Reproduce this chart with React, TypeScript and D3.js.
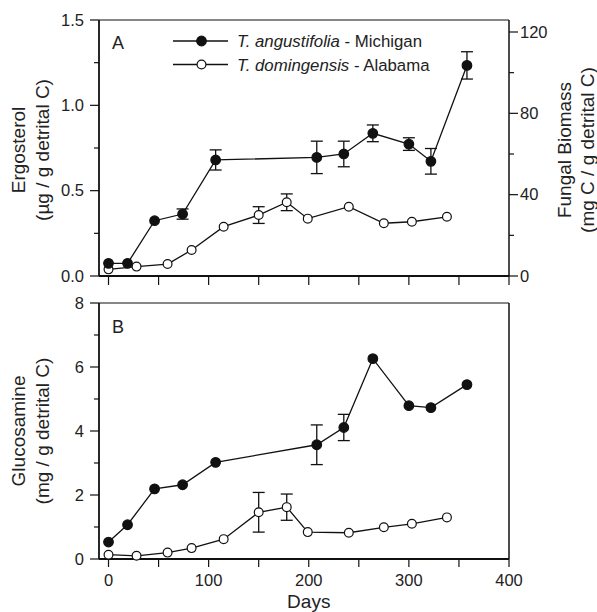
import React from 'react';
import * as d3 from 'd3';

// ---- Data ----
const daysAngustifolia = [0, 19, 46, 74, 107, 208, 235, 264, 300, 322, 358];
const ergAngustifolia = [0.074, 0.074, 0.324, 0.363, 0.68, 0.695, 0.715, 0.836, 0.773, 0.672, 1.234];
const ergAngustifoliaErr = [0, 0, 0, 0.03, 0.059, 0.095, 0.075, 0.049, 0.037, 0.075, 0.08];
const glcAngustifolia = [0.53, 1.07, 2.19, 2.32, 3.02, 3.57, 4.11, 6.26, 4.79, 4.73, 5.45];
const glcAngustifoliaErr = [0, 0, 0, 0, 0, 0.62, 0.41, 0, 0, 0, 0];

const daysDomingensis = [0, 28, 59, 83, 115, 150, 178, 199, 240, 275, 303, 338];
const ergDomingensis = [0.039, 0.055, 0.07, 0.152, 0.289, 0.357, 0.432, 0.336, 0.406, 0.309, 0.318, 0.347];
const ergDomingensisErr = [0, 0, 0, 0, 0, 0.049, 0.049, 0, 0, 0, 0, 0];
const glcDomingensis = [0.135, 0.1, 0.2, 0.34, 0.62, 1.46, 1.62, 0.84, 0.82, 0.99, 1.1, 1.3];
const glcDomingensisErr = [0, 0, 0, 0, 0, 0.62, 0.41, 0, 0, 0, 0, 0];

const xTicks = [0, 100, 200, 300, 400];
const xMinorTicks = [50, 150, 250, 350];
const ergTicks = [0, 0.5, 1.0, 1.5];
const ergMinorTicks = [0.25, 0.75, 1.25];
const biomassTicks = [0, 40, 80, 120];
const biomassMinorTicks = [20, 60, 100];
const glcTicks = [0, 2, 4, 6, 8];
const glcMinorTicks = [1, 3, 5, 7];

const seriesNames = [
  { italic: 'T. angustifolia', rest: ' - Michigan', filled: true },
  { italic: 'T. domingensis', rest: ' - Alabama', filled: false },
];

const FONT = '"Liberation Sans", Arial, Helvetica, sans-serif';

const L = 99, R = 509;
const topA = 20, botA = 276, topB = 303, botB = 559;

const x = d3.scaleLinear().domain([-9.5, 400]).range([L, R]);
const yErg = d3.scaleLinear().domain([0, 1.5]).range([botA, topA]);
const yBio = d3.scaleLinear().domain([0, 125.9]).range([botA, topA]);
const yGlc = d3.scaleLinear().domain([0, 8]).range([botB, topB]);

type Series = { days: number[]; vals: number[]; errs: number[]; filled: boolean };

function SeriesMarks({ s, y }: { s: Series; y: d3.ScaleLinear<number, number> }) {
  const pts = s.days.map((d, i) => [d, s.vals[i]] as [number, number]);
  const line = d3.line<[number, number]>().x(p => x(p[0])).y(p => y(p[1]));
  return (
    <g>
      <path d={line(pts) || ''} fill="none" stroke="#111" strokeWidth={1.3} />
      {s.days.map((d, i) =>
        s.errs[i] > 0 ? (
          <g key={'e' + i} stroke="#111" strokeWidth={1.3}>
            <line x1={x(d)} x2={x(d)} y1={y(s.vals[i] - s.errs[i])} y2={y(s.vals[i] + s.errs[i])} />
            <line x1={x(d) - 6} x2={x(d) + 6} y1={y(s.vals[i] - s.errs[i])} y2={y(s.vals[i] - s.errs[i])} />
            <line x1={x(d) - 6} x2={x(d) + 6} y1={y(s.vals[i] + s.errs[i])} y2={y(s.vals[i] + s.errs[i])} />
          </g>
        ) : null
      )}
      {s.days.map((d, i) => (
        <circle
          key={'c' + i}
          cx={x(d)}
          cy={y(s.vals[i])}
          r={s.filled ? 4.8 : 4.4}
          fill={s.filled ? '#111' : '#fff'}
          stroke="#111"
          strokeWidth={1.2}
        />
      ))}
    </g>
  );
}

function LeftAxis({ y, ticks, minor, fmt, top, bot }: any) {
  return (
    <g>
      <line x1={L} x2={L} y1={top} y2={bot} stroke="#111" strokeWidth={1.8} />
      {ticks.map((t: number) => (
        <g key={t}>
          <line x1={L - 9} x2={L} y1={y(t)} y2={y(t)} stroke="#111" strokeWidth={1.2} />
          <text x={L - 15} y={y(t)} dy="0.35em" textAnchor="end" fontSize={16.5} fontFamily={FONT} fill="#222">
            {fmt(t)}
          </text>
        </g>
      ))}
      {minor.map((t: number) => (
        <line key={'m' + t} x1={L - 5} x2={L} y1={y(t)} y2={y(t)} stroke="#111" strokeWidth={1.2} />
      ))}
    </g>
  );
}

function XAxis({ yPos, labels, len }: { yPos: number; labels: boolean; len: number }) {
  return (
    <g>
      <line x1={L} x2={R} y1={yPos} y2={yPos} stroke="#111" strokeWidth={1.8} />
      {[...xTicks, ...xMinorTicks].map(t => (
        <line key={t} x1={x(t)} x2={x(t)} y1={yPos} y2={yPos + len} stroke="#111" strokeWidth={1.2} />
      ))}
      {labels &&
        xTicks.map(t => (
          <text key={'l' + t} x={x(t)} y={yPos + 27} textAnchor="middle" fontSize={16.5} fontFamily={FONT} fill="#222">
            {t}
          </text>
        ))}
    </g>
  );
}

function RotTitle({ cx, cy, lines, baselines }: { cx: number; cy: number; lines: string[]; baselines: number[] }) {
  return (
    <g>
      {lines.map((ln, i) => (
        <text
          key={i}
          transform={`translate(${baselines[i]},${cy}) rotate(-90)`}
          textAnchor="middle"
          fontSize={19}
          fontFamily={FONT}
          fill="#222"
        >
          {ln}
        </text>
      ))}
    </g>
  );
}

export default function App() {
  const fa: Series = { days: daysAngustifolia, vals: ergAngustifolia, errs: ergAngustifoliaErr, filled: true };
  const da: Series = { days: daysDomingensis, vals: ergDomingensis, errs: ergDomingensisErr, filled: false };
  const fb: Series = { days: daysAngustifolia, vals: glcAngustifolia, errs: glcAngustifoliaErr, filled: true };
  const db: Series = { days: daysDomingensis, vals: glcDomingensis, errs: glcDomingensisErr, filled: false };

  return (
    <svg
      width={597}
      height={612}
      style={{ position: 'absolute', left: 0, top: 0, background: '#fff' }}
    >
      <rect width={597} height={612} fill="#fff" />
      {/* Panel A */}
      <line x1={L} x2={R} y1={topA} y2={topA} stroke="#111" strokeWidth={1.2} />
      <line x1={R} x2={R} y1={topA} y2={botA} stroke="#111" strokeWidth={1.5} />
      {biomassTicks.map(t => (
        <g key={'b' + t}>
          <line x1={R} x2={R + 9} y1={yBio(t)} y2={yBio(t)} stroke="#111" strokeWidth={1.2} />
          <text x={R + 11} y={yBio(t)} dy="0.35em" fontSize={16.5} fontFamily={FONT} fill="#222">
            {t}
          </text>
        </g>
      ))}
      {biomassMinorTicks.map(t => (
        <line key={'bm' + t} x1={R} x2={R + 5} y1={yBio(t)} y2={yBio(t)} stroke="#111" strokeWidth={1.2} />
      ))}
      <XAxis yPos={botA} labels={false} len={9} />
      <LeftAxis y={yErg} ticks={ergTicks} minor={ergMinorTicks} fmt={(t: number) => t.toFixed(1)} top={topA} bot={botA} />
      <text x={112} y={49} fontSize={18} fontFamily={FONT} fill="#222">A</text>
      <SeriesMarks s={da} y={yErg} />
      <SeriesMarks s={fa} y={yErg} />
      {/* Legend */}
      {seriesNames.map((s, i) => {
        const ly = 41 + i * 23.5;
        return (
          <g key={s.italic}>
            <line x1={173} x2={228} y1={ly} y2={ly} stroke="#111" strokeWidth={1.3} />
            <circle cx={201.5} cy={ly} r={s.filled ? 4.8 : 4.4} fill={s.filled ? '#111' : '#fff'} stroke="#111" strokeWidth={1.2} />
            <text x={237} y={ly + 6} fontSize={16.8} fontFamily={FONT} fill="#222">
              <tspan fontStyle="italic">{s.italic}</tspan>
              <tspan>{s.rest}</tspan>
            </text>
          </g>
        );
      })}
      <RotTitle cx={0} cy={150} lines={['Ergosterol', '(µg / g detrital C)']} baselines={[25, 49]} />
      <RotTitle cx={0} cy={150} lines={['Fungal Biomass', '(mg C / g detrital C)']} baselines={[571, 594]} />

      {/* Panel B */}
      <line x1={L} x2={R} y1={topB} y2={topB} stroke="#111" strokeWidth={1.2} />
      <line x1={R} x2={R} y1={topB} y2={botB} stroke="#111" strokeWidth={1.5} />
      <XAxis yPos={botB} labels={true} len={8} />
      <LeftAxis y={yGlc} ticks={glcTicks} minor={glcMinorTicks} fmt={(t: number) => String(t)} top={topB} bot={botB} />
      <text x={112} y={333} fontSize={18} fontFamily={FONT} fill="#222">B</text>
      <SeriesMarks s={db} y={yGlc} />
      <SeriesMarks s={fb} y={yGlc} />
      <RotTitle cx={0} cy={431} lines={['Glucosamine', '(mg / g detrital C)']} baselines={[25, 49]} />
      <text x={x(200)} y={608} textAnchor="middle" fontSize={19} fontFamily={FONT} fill="#222">Days</text>
    </svg>
  );
}
